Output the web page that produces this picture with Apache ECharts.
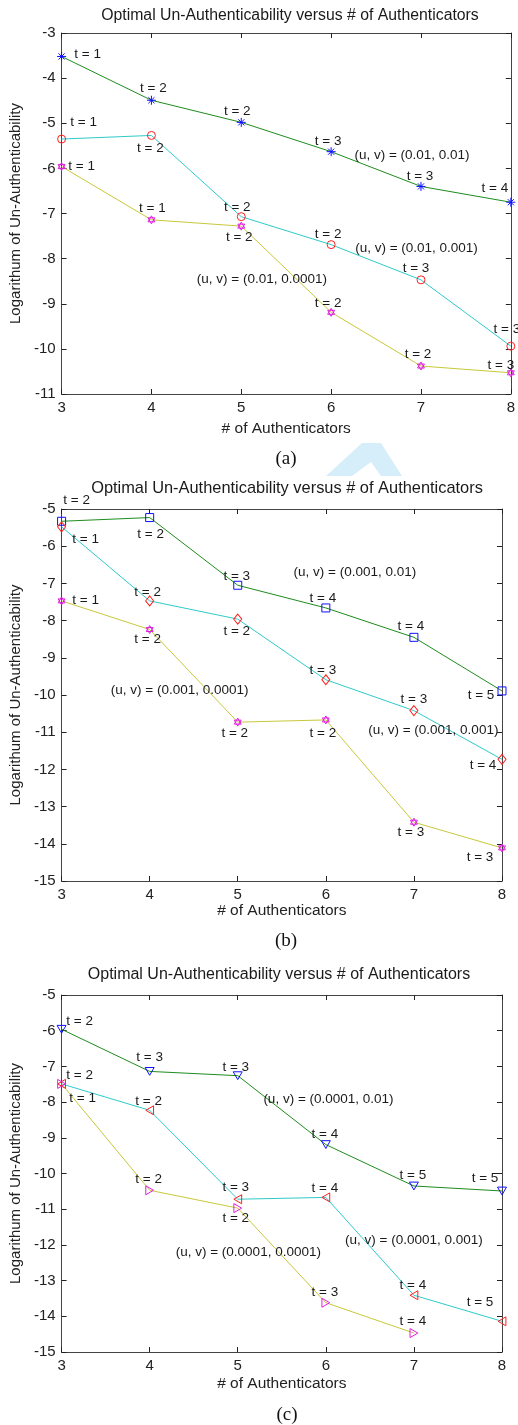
<!DOCTYPE html>
<html>
<head>
<meta charset="utf-8">
<script src="https://cdn.jsdelivr.net/npm/echarts@6/dist/echarts.min.js"></script>
<style>
html,body{margin:0;padding:0;background:#fff;}
#chart{width:518px;height:1425px;}
</style>
</head>
<body>
<div id="chart"></div>
<script>
// ---------- DATA ----------
const authenticators = [3, 4, 5, 6, 7, 8];
const xTicks = [3, 4, 5, 6, 7, 8];

// Panel (a): u = 0.01
const aV001 = [-3.52, -4.49, -4.98, -5.63, -6.40, -6.75];     // v = 0.01
const aV0001 = [-5.35, -5.27, -7.07, -7.69, -8.47, -9.94];    // v = 0.001
const aV00001 = [-5.96, -7.14, -7.28, -9.19, -10.38, -10.53]; // v = 0.0001
const aT001 = [1, 2, 2, 3, 3, 4];
const aT0001 = [1, 2, 2, 2, 3, 3];
const aT00001 = [1, 1, 2, 2, 2, 3];
const aNotes = [
  [6.90, -5.70, '(u, v) = (0.01, 0.01)'],
  [6.95, -7.78, '(u, v) = (0.01, 0.001)'],
  [5.23, -8.45, '(u, v) = (0.01, 0.0001)']
];

// Panel (b): u = 0.001
const bV001 = [-5.33, -5.23, -7.05, -7.66, -8.45, -9.89];
const bV0001 = [-5.48, -7.47, -7.96, -9.59, -10.42, -11.73];
const bV00001 = [-7.47, -8.24, -10.73, -10.67, -13.42, -14.11];
const bT001 = [2, 2, 3, 4, 4, 5];
const bT0001 = [1, 2, 2, 3, 3, 4];
const bT00001 = [1, 2, 2, 2, 3, 3];
const bNotes = [
  [6.33, -6.71, '(u, v) = (0.001, 0.01)'],
  [7.22, -10.94, '(u, v) = (0.001, 0.001)'],
  [4.34, -9.88, '(u, v) = (0.001, 0.0001)']
];

// Panel (c): u = 0.0001
const cV001 = [-5.96, -7.14, -7.26, -9.19, -10.35, -10.49];
const cV0001 = [-7.49, -8.23, -10.72, -10.67, -13.41, -14.14];
const cV00001 = [-7.49, -10.47, -10.97, -13.62, -14.47];
const cT001 = [2, 3, 3, 4, 5, 5];
const cT0001 = [2, 2, 3, 4, 4, 5];
const cT00001 = [1, 2, 2, 3, 4];
const cNotes = [
  [6.03, -7.92, '(u, v) = (0.0001, 0.01)'],
  [7.00, -11.87, '(u, v) = (0.0001, 0.001)'],
  [5.12, -12.22, '(u, v) = (0.0001, 0.0001)']
];

const titleText = 'Optimal Un-Authenticability versus # of Authenticators';
const xName = '# of Authenticators';
const yName = 'Logarithum of Un-Authenticability';

// ---------- STYLE (label placement offsets, px) ----------
const aOff001 = [[26,-2],[2,-12],[-4,-11],[-3,-10],[-1,-10],[-16,-14]];
const aOff0001 = [[22,-17],[-1,13],[-4,-9],[-3,-10],[-5,-12],[-4,-17]];
const aOff00001 = [[20,0],[1,-12],[-2,11],[-3,-9],[-3,-12],[-10,-8]];
const bOff001 = [[15,-21],[1,17],[-1,-9],[-3,-10],[-3,-11],[-21,4]];
const bOff0001 = [[24,12],[-2,-9],[-1,12],[-3,-9],[0,-11],[-19,6]];
const bOff00001 = [[24,-1],[-2,10],[-3,11],[-3,13],[-3,10],[-22,9]];
const cOff001 = [[18,-8],[0,-14],[-2,-8],[-1,-10],[-1,-11],[-17,-13]];
const cOff0001 = [[18,-9],[-1,-9],[-2,-12],[-1,-9],[-1,-10],[-22,-19]];
const cOff00001 = [[21,14],[-1,-11],[-2,10],[-1,-10],[-1,-12]];

const FONT = 'Liberation Sans, Arial, sans-serif';
const GREEN = '#1e8c1e', CYAN = '#2fcaca', YELLOW = '#c8c83a';
const BLUE = '#1010ff', RED = '#ff2020', MAG = '#e020e0';

const SYM = {
  star: 'path://M5 0V10M0 5H10M1.6 1.6L8.4 8.4M1.6 8.4L8.4 1.6',
  hexa: 'path://M5 0L9.33 7.5L0.67 7.5ZM5 10L0.67 2.5L9.33 2.5Z',
  down: 'path://M0 0L10 0L5 8.66Z',
  left: 'path://M0 5L8.66 0L8.66 10Z',
  right: 'path://M8.66 5L0 0L0 10Z'
};

const grids = [
  {left: 57, top: 33, width: 459, height: 361},
  {left: 49, top: 509, width: 453, height: 372},
  {left: 49, top: 995, width: 453, height: 357}
];
const yRanges = [[-11, -3], [-15, -5], [-15, -5]];
const yNameGap = [32, 31, 31];
const xNameGap = [27, 22, 24];

const xAxes = [], yAxes = [];
grids.forEach((g, i) => {
  const base = {
    type: 'value', gridIndex: i, min: 3, max: 8, interval: 1,
    axisLine: {show: true, onZero: false, lineStyle: {color: '#444', width: 1}},
    axisTick: {show: true, inside: true, length: 5, lineStyle: {color: '#222'}},
    splitLine: {show: false}
  };
  xAxes.push(Object.assign({}, base, {
    position: 'bottom', name: xName, nameLocation: 'middle', nameGap: xNameGap[i],
    nameTextStyle: {fontFamily: FONT, fontSize: 15.5, color: '#222'},
    axisLabel: {show: true, margin: 6, fontFamily: FONT, fontSize: 15, color: '#222',
      formatter: v => xTicks.includes(v) ? String(v) : ''}
  }));
  xAxes.push(Object.assign({}, base, {position: 'top', axisLabel: {show: false}}));
  const ybase = {
    type: 'value', gridIndex: i, min: yRanges[i][0], max: yRanges[i][1], interval: 1,
    axisLine: {show: true, onZero: false, lineStyle: {color: '#444', width: 1}},
    axisTick: {show: true, inside: true, length: 5, lineStyle: {color: '#222'}},
    splitLine: {show: false}
  };
  yAxes.push(Object.assign({}, ybase, {
    position: 'left', name: yName, nameLocation: 'middle', nameGap: yNameGap[i],
    nameTextStyle: {fontFamily: FONT, fontSize: 15, color: '#222'},
    axisLabel: {show: true, margin: 6, fontFamily: FONT, fontSize: 15, color: '#222'}
  }));
  yAxes.push(Object.assign({}, ybase, {position: 'right', axisLabel: {show: false}}));
});

function lineSeries(gi, values, tvals, offs, lineColor, markColor, symbol, size) {
  const data = [];
  values.forEach((v, k) => {
    if (v == null) return;
    data.push({value: [authenticators[k], v], label: {offset: offs[k]}});
  });
  return {
    type: 'line', xAxisIndex: gi * 2, yAxisIndex: gi * 2, data: data,
    clip: false, animation: false, silent: true,
    lineStyle: {color: lineColor, width: 1},
    symbol: symbol, symbolSize: size, symbolKeepAspect: true, showAllSymbol: true,
    itemStyle: {color: 'rgba(0,0,0,0)', borderColor: markColor, borderWidth: 1},
    label: {show: true, position: 'inside', fontFamily: FONT, fontSize: 13.5, color: '#1a1a1a',
      formatter: p => 't = ' + tvals[p.dataIndex]},
    emphasis: {disabled: true}, z: 3
  };
}
function noteSeries(gi, notes) {
  return {
    type: 'scatter', xAxisIndex: gi * 2, yAxisIndex: gi * 2, clip: false, silent: true,
    animation: false, symbolSize: 1, itemStyle: {color: 'rgba(0,0,0,0)', opacity: 1},
    data: notes.map(n => ({value: [n[0], n[1]], name: n[2]})),
    label: {show: true, position: 'inside', fontFamily: FONT, fontSize: 13.5, color: '#1a1a1a', opacity: 1,
      formatter: p => p.name},
    emphasis: {disabled: true},
    z: 4
  };
}

const series = [
  lineSeries(0, aV001, aT001, aOff001, GREEN, BLUE, SYM.star, 9),
  lineSeries(0, aV0001, aT0001, aOff0001, CYAN, RED, 'circle', 8),
  lineSeries(0, aV00001, aT00001, aOff00001, YELLOW, MAG, SYM.hexa, 8),
  noteSeries(0, aNotes),
  lineSeries(1, bV001, bT001, bOff001, GREEN, BLUE, 'rect', 8),
  lineSeries(1, bV0001, bT0001, bOff0001, CYAN, RED, 'diamond', [8, 10]),
  lineSeries(1, bV00001, bT00001, bOff00001, YELLOW, MAG, SYM.hexa, 8),
  noteSeries(1, bNotes),
  lineSeries(2, cV001, cT001, cOff001, GREEN, BLUE, SYM.down, 9),
  lineSeries(2, cV0001, cT0001, cOff0001, CYAN, RED, SYM.left, 9),
  lineSeries(2, cV00001, cT00001, cOff00001, YELLOW, MAG, SYM.right, 9),
  noteSeries(2, cNotes)
];

const titleY = [8, 480, 967];
const titleX = [290, 287, 279];
const titleSize = [15.8, 16.4, 16];
const captions = [['(a)', 286, 459], ['(b)', 286, 941], ['(c)', 287, 1415]];

const chart = echarts.init(document.getElementById('chart'), null, {renderer: 'canvas'});
chart.setOption({
  backgroundColor: '#ffffff',
  animation: false,
  title: titleY.map((t, i) => ({
    text: titleText, left: titleX[i], top: t, textAlign: 'center', padding: 0,
    textStyle: {fontFamily: FONT, fontSize: titleSize[i], fontWeight: 'normal', color: '#1a1a1a'}
  })),
  grid: grids,
  xAxis: xAxes,
  yAxis: yAxes,
  series: series,
  graphic: [
    {type: 'polygon', z: -1, shape: {points: [[326,476],[362,443],[381,443],[402,476],[381,476],[371,462],[352,476]]},
      style: {fill: '#d6eefa'}}
  ].concat(captions.map(c => ({
    type: 'text', x: c[1], y: c[2],
    style: {text: c[0], textAlign: 'center', textVerticalAlign: 'middle',
      font: '19px "Liberation Serif", "Times New Roman", serif', fill: '#111'}
  })))
});
</script>
</body>
</html>
